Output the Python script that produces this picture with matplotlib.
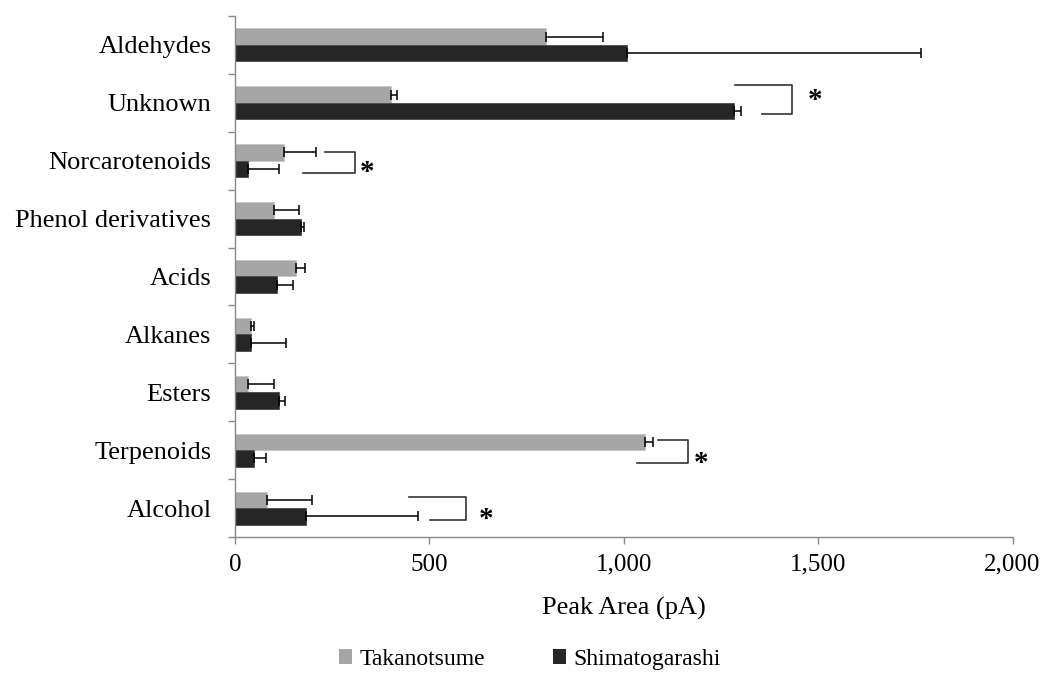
import numpy as np
import matplotlib
matplotlib.use('Agg')
import matplotlib.pyplot as plt
from matplotlib.patches import Patch

plt.rcParams['font.family'] = ['Liberation Serif', 'DejaVu Serif']

# values (Peak Area, pA)
categories = ['Aldehydes', 'Unknown', 'Norcarotenoids', 'Phenol derivatives', 'Acids',
              'Alkanes', 'Esters', 'Terpenoids', 'Alcohol']
taka = [800, 401, 126, 101, 157, 41, 33, 1054, 82]
taka_err = [146, 16, 82, 64, 22, 8, 67, 21, 117]
shima = [1008, 1283, 33, 171, 109, 41, 114, 50, 183]
shima_err = [756, 18, 80, 6, 40, 90, 15, 29, 287]

series_names = ['Takanotsume', 'Shimatogarashi']
colors = ['#A6A6A6', '#262626']
xticks = [0, 500, 1000, 1500, 2000]
xticklabels = ['0', '500', '1,000', '1,500', '2,000']

# significance brackets: category, top arm y-offset, bottom arm y-offset,
# top arm start, bottom arm start, right side, star x, star y-offset
brackets = [
    (1, -0.31, 0.19, 1286, 1355, 1433, 1492, -0.04),
    (2, -0.15, 0.21, 231, 175, 309, 340, 0.21),
    (7, -0.17, 0.23, 1088, 1034, 1165, 1198, 0.23),
    (8, -0.19, 0.20, 447, 501, 594, 645, 0.19),
]

fig = plt.figure(figsize=(10.45, 6.77), dpi=100)
ax = fig.add_axes([0.2249, 0.2068, 0.744, 0.7696])

y = np.arange(len(categories))
h = 1 / 3.5

ax.barh(y - h / 2, taka, height=h, color=colors[0], edgecolor='#C8C8C8', linewidth=0.6, zorder=2)
ax.barh(y + h / 2, shima, height=h, color=colors[1], edgecolor='#4A4A4A', linewidth=0.6, zorder=2)

zeros = [0] * len(categories)
ax.errorbar(taka, y - h / 2, xerr=[zeros, taka_err], fmt='none', ecolor='black',
            elinewidth=1.1, capsize=3.6, capthick=1.1, zorder=3)
ax.errorbar(shima, y + h / 2, xerr=[zeros, shima_err], fmt='none', ecolor='black',
            elinewidth=1.1, capsize=3.6, capthick=1.1, zorder=3)

for cat, yt, yb, xt, xb, xr, sx, sy in brackets:
    ax.plot([xt, xr, xr, xb], [cat + yt, cat + yt, cat + yb, cat + yb],
            color='#333333', linewidth=1.2, zorder=3)
    ax.text(sx, cat + sy, '*', fontsize=21, fontweight='bold', ha='center', va='center')

ax.set_xlim(0, 2000)
ax.set_ylim(len(categories) - 0.5, -0.5)
ax.set_xticks(xticks)
ax.set_xticklabels(xticklabels, fontsize=18)
ax.set_yticks(y)
ax.set_yticklabels(categories, fontsize=19)
ax.set_yticks(np.arange(len(categories) + 1) - 0.5, minor=True)
ax.tick_params(axis='y', which='major', length=0, pad=17)
ax.tick_params(axis='y', which='minor', length=5, color='#898989', width=1)
ax.tick_params(axis='x', length=5, color='#898989', width=1, pad=7)

for side in ['top', 'right']:
    ax.spines[side].set_visible(False)
for side in ['left', 'bottom']:
    ax.spines[side].set_color('#898989')
    ax.spines[side].set_linewidth(1)

ax.set_xlabel('Peak Area (pA)', fontsize=19, labelpad=15)

handles = [Patch(facecolor=c, edgecolor='none') for c in colors]
fig.legend(handles, series_names, loc='center', bbox_to_anchor=(0.507, 0.026), ncol=2,
           frameon=False, fontsize=17, handlelength=0.55, handleheight=0.55,
           handletextpad=0.3, columnspacing=2.9)

fig.savefig('out.png', dpi=100)
